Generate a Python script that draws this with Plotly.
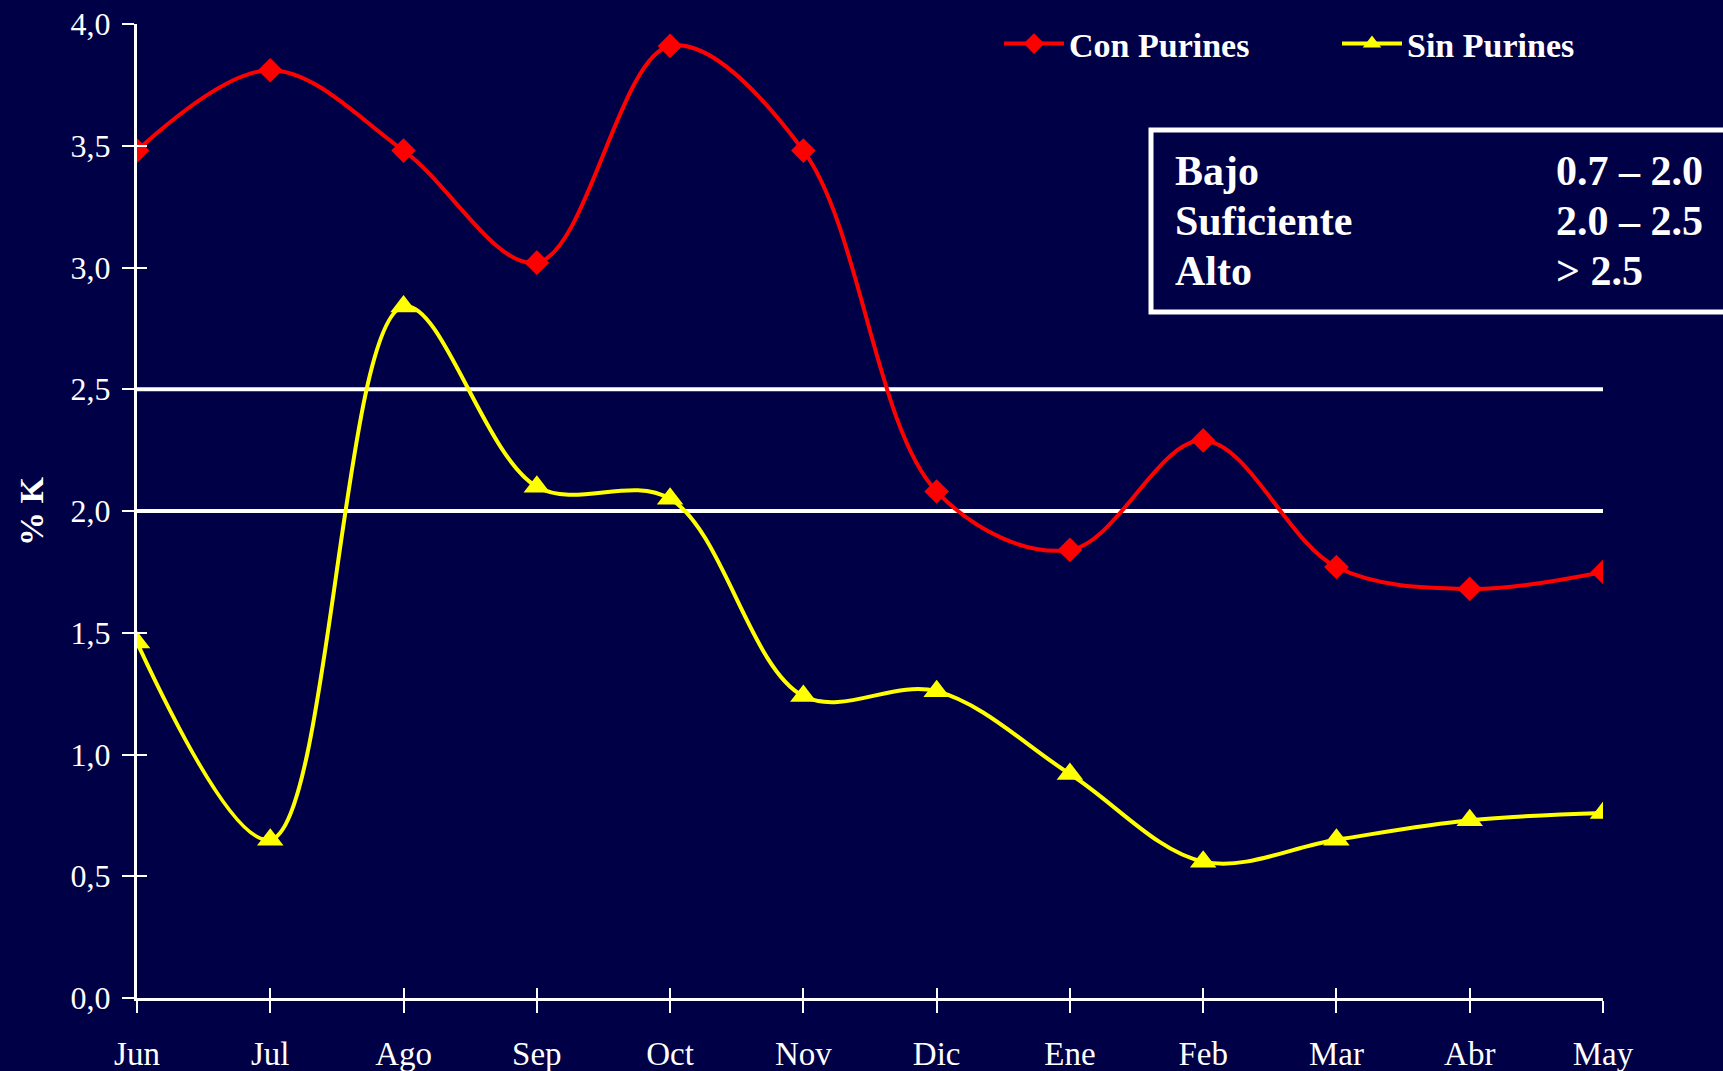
import plotly.graph_objects as go

months = ["Jun", "Jul", "Ago", "Sep", "Oct", "Nov", "Dic", "Ene", "Feb", "Mar", "Abr", "May"]
con_purines = [3.48, 3.81, 3.48, 3.02, 3.91, 3.48, 2.08, 1.84, 2.29, 1.77, 1.68, 1.75]
sin_purines = [1.46, 0.65, 2.84, 2.10, 2.05, 1.24, 1.26, 0.92, 0.56, 0.65, 0.73, 0.76]
thresholds = [2.0, 2.5]
y_ticks = [0.0, 0.5, 1.0, 1.5, 2.0, 2.5, 3.0, 3.5, 4.0]
table_labels = ["Bajo", "Suficiente", "Alto"]
table_ranges = ["0.7 \u2013 2.0", "2.0 \u2013 2.5", "> 2.5"]

BG = "#000046"
SERIF = "Liberation Serif, Times New Roman, serif"
x_idx = list(range(len(months)))

fig = go.Figure()

for t in thresholds:
    fig.add_trace(go.Scatter(x=[x_idx[0], x_idx[-1]], y=[t, t], mode="lines",
                             line=dict(color="white", width=4),
                             showlegend=False, hoverinfo="skip"))

fig.add_trace(go.Scatter(x=x_idx, y=con_purines, name="<b>Con Purines</b>",
                         mode="lines+markers",
                         line=dict(color="#FF0000", width=4, shape="spline", smoothing=1.0),
                         marker=dict(symbol="diamond", size=19, color="#FF0000")))
fig.add_trace(go.Scatter(x=x_idx, y=sin_purines, name="<b>Sin Purines</b>",
                         mode="lines+markers",
                         line=dict(color="#FFFF00", width=4, shape="spline", smoothing=1.0),
                         marker=dict(symbol="triangle-up", size=23, color="#FFFF00")))

# invisible trace to carry the overlay axes (inner half of crossing ticks)
fig.add_trace(go.Scatter(x=[x_idx[0]], y=[0], xaxis="x2", yaxis="y2", mode="markers",
                         marker=dict(opacity=0), showlegend=False, hoverinfo="skip"))

L, R, T, B = 137, 120, 24, 73
W, H = 1723, 1071
pw, ph = W - L - R, H - T - B

def px(xp):
    return (xp - L) / pw

def py(yp):
    return (H - B - yp) / ph

annotations = []
for i, (lab, rng) in enumerate(zip(table_labels, table_ranges)):
    yy = py(171 + 50 * i)
    annotations.append(dict(x=px(1173), y=yy, xref="paper", yref="paper", text="<b>%s</b>" % lab,
                            showarrow=False, xanchor="left", yanchor="middle",
                            font=dict(family=SERIF, size=42, color="white")))
    annotations.append(dict(x=px(1554), y=yy, xref="paper", yref="paper", text="<b>%s</b>" % rng,
                            showarrow=False, xanchor="left", yanchor="middle",
                            font=dict(family=SERIF, size=42, color="white")))
annotations.append(dict(x=px(31), y=0.5, xref="paper", yref="paper", text="<b>% K</b>",
                        textangle=-90, showarrow=False, xanchor="center", yanchor="middle",
                        font=dict(family=SERIF, size=34, color="white")))

fig.update_layout(
    width=W, height=H,
    paper_bgcolor=BG, plot_bgcolor=BG,
    margin=dict(l=L, r=R, t=T, b=B, autoexpand=False),
    separators=", ",
    font=dict(family=SERIF, color="white"),
    xaxis=dict(range=[0, 11], tickvals=x_idx, ticktext=months, showgrid=False, zeroline=False,
               showline=True, linecolor="white", linewidth=3, ticks="outside", ticklen=12,
               tickwidth=2, tickcolor="white", ticklabelstandoff=12, automargin=False,
               tickfont=dict(family=SERIF, size=33, color="white")),
    yaxis=dict(range=[0, 4], tickvals=y_ticks, tickformat=".1f", showgrid=False, zeroline=False,
               showline=True, linecolor="white", linewidth=3, ticks="outside", ticklen=12,
               tickwidth=2, tickcolor="white", ticklabelstandoff=5, automargin=False,
               tickfont=dict(family=SERIF, size=32, color="white")),
    xaxis2=dict(range=[0, 11], overlaying="x", tickvals=x_idx, showticklabels=False,
                showgrid=False, zeroline=False, showline=False, ticks="inside", ticklen=10,
                tickwidth=2, tickcolor="white", automargin=False),
    yaxis2=dict(range=[0, 4], overlaying="y", tickvals=y_ticks, showticklabels=False,
                showgrid=False, zeroline=False, showline=False, ticks="inside", ticklen=10,
                tickwidth=2, tickcolor="white", automargin=False),
    legend=dict(orientation="h", x=px(999), y=py(44), xanchor="left", yanchor="middle",
                bgcolor="rgba(0,0,0,0)", entrywidth=263, entrywidthmode="pixels",
                font=dict(family=SERIF, size=34, color="white"), itemwidth=60),
    shapes=[dict(type="rect", xref="paper", yref="paper", x0=px(1151), x1=px(1760),
                 y0=py(312), y1=py(130), line=dict(color="white", width=5),
                 fillcolor="rgba(0,0,0,0)")],
    annotations=annotations,
)

fig.write_html("out.html", config={"displayModeBar": False},
               post_script="document.body.style.margin='0';document.body.style.padding='0';"
                           "document.body.style.background='%s';"
                           "document.documentElement.style.background='%s';"
                           "document.body.style.overflow='hidden';" % (BG, BG))
